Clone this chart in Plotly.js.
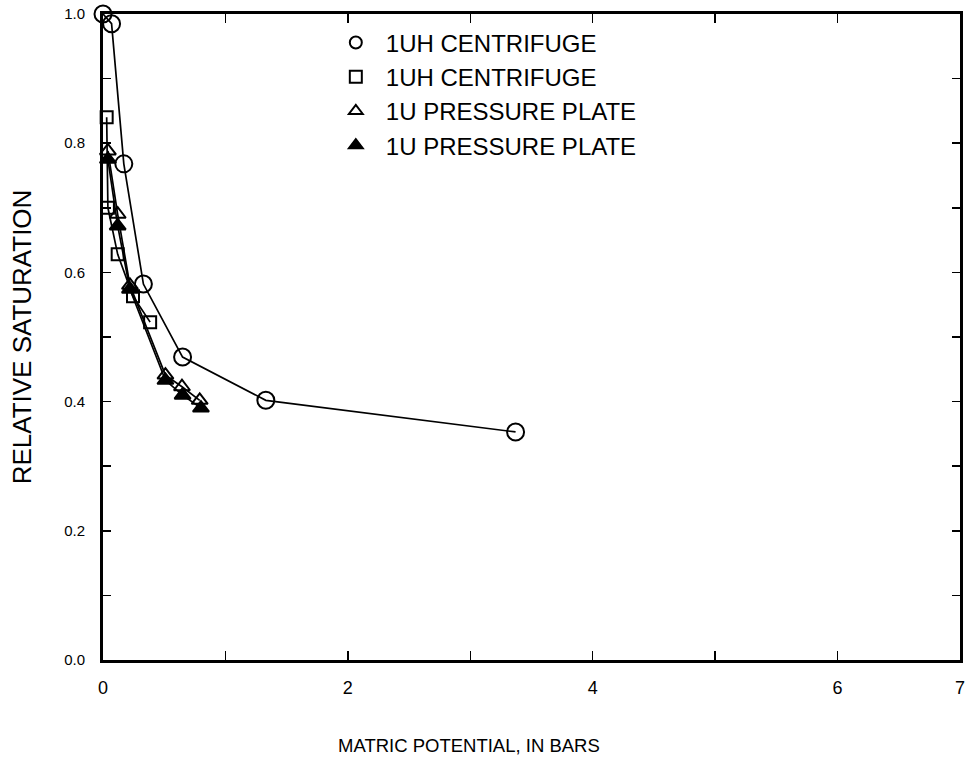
<!DOCTYPE html>
<html>
<head>
<meta charset="utf-8">
<script src="https://cdn.plot.ly/plotly-3.0.1.min.js"></script>
<style>html,body{margin:0;padding:0;background:#fff;}#chart{width:967px;height:765px;}</style>
</head>
<body>
<div id="chart"></div>
<script>
// Series 1: 1UH centrifuge (open circles)
const circX = [0.0, 0.07, 0.17, 0.33, 0.65, 1.33, 3.37];
const circY = [1.0, 0.985, 0.768, 0.582, 0.469, 0.402, 0.353];
// Series 2: 1UH centrifuge (open squares)
const sqX = [0.03, 0.04, 0.12, 0.245, 0.385];
const sqY = [0.840, 0.700, 0.628, 0.563, 0.523];
// Series 3: 1U pressure plate (open triangles)
const triOX = [0.04, 0.12, 0.22, 0.51, 0.645, 0.79];
const triOY = [0.788, 0.690, 0.580, 0.441, 0.423, 0.402];
// Series 4: 1U pressure plate (filled triangles)
const triFX = [0.04, 0.12, 0.22, 0.51, 0.65, 0.80];
const triFY = [0.775, 0.672, 0.574, 0.433, 0.410, 0.390];

const names = ["1UH CENTRIFUGE", "1UH CENTRIFUGE", "1U PRESSURE PLATE", "1U PRESSURE PLATE"];
const xTickVals = [0, 2, 4, 6, 7];
const xTickText = ["0", "2", "4", "6", "7"];
const yTickVals = [0, 0.2, 0.4, 0.6, 0.8, 1.0];
const yTickText = ["0.0", "0.2", "0.4", "0.6", "0.8", "1.0"];

const series = [
  {x: circX, y: circY, symbol: "circle-open", size: 17},
  {x: sqX, y: sqY, symbol: "square-open", size: 12},
  {x: triOX, y: triOY, symbol: "triangle-up-open", size: 14},
  {x: triFX, y: triFY, symbol: "triangle-up", size: 14}
];

const traces = [];
series.forEach((s) => {
  traces.push({x: s.x, y: s.y, mode: "lines", type: "scatter", showlegend: false,
    cliponaxis: false, line: {color: "#000", width: 1.7}, hoverinfo: "skip"});
});
series.forEach((s, i) => {
  traces.push({x: s.x, y: s.y, mode: "markers", type: "scatter", name: names[i],
    cliponaxis: false,
    marker: {symbol: s.symbol, size: s.size, color: "#000", line: {color: "#000", width: 2}}});
});

const narrow = "'Liberation Sans Narrow', 'Liberation Sans', Arial, sans-serif";
const sans = "'Liberation Sans', Arial, sans-serif";

const layout = {
  width: 967, height: 765,
  margin: {l: 103, r: 7, t: 14, b: 105},
  paper_bgcolor: "#fff", plot_bgcolor: "#fff",
  font: {family: sans, color: "#000"},
  showlegend: true,
  legend: {x: 0.26, y: 0.99, xanchor: "left", yanchor: "top",
    font: {size: 24, color: "#000"}, bgcolor: "rgba(0,0,0,0)", tracegroupgap: 0,
    itemsizing: "constant", itemwidth: 50},
  xaxis: {range: [0, 7], tickvals: xTickVals, ticktext: xTickText,
    ticks: "inside", ticklen: 9, tickwidth: 1.5, tickcolor: "#000",
    minor: {dtick: 1, ticks: "inside", ticklen: 9, tickwidth: 1.5, tickcolor: "#000"},
    showline: true, linewidth: 3, linecolor: "#000", mirror: "allticks",
    showgrid: false, zeroline: false, tickfont: {family: narrow, size: 18, color: "#000"},
    ticklabelstandoff: 9},
  yaxis: {range: [0, 1.0], tickvals: yTickVals, ticktext: yTickText,
    ticks: "inside", ticklen: 8, tickwidth: 1.5, tickcolor: "#000",
    minor: {dtick: 0.1, ticks: "inside", ticklen: 8, tickwidth: 1.5, tickcolor: "#000"},
    showline: true, linewidth: 3, linecolor: "#000", mirror: "allticks",
    showgrid: false, zeroline: false, tickfont: {family: sans, size: 15, color: "#000"},
    ticklabelstandoff: 12,
    title: {text: "RELATIVE SATURATION", font: {size: 26, color: "#000"}, standoff: 26}},
  annotations: [{text: "MATRIC POTENTIAL, IN BARS", xref: "paper", yref: "paper",
    x: (469 - 103) / 857, y: -0.132, xanchor: "center", yanchor: "middle", showarrow: false,
    font: {size: 18.5, color: "#000"}}]
};

Plotly.newPlot("chart", traces, layout, {displayModeBar: false, staticPlot: true});
</script>
</body>
</html>
